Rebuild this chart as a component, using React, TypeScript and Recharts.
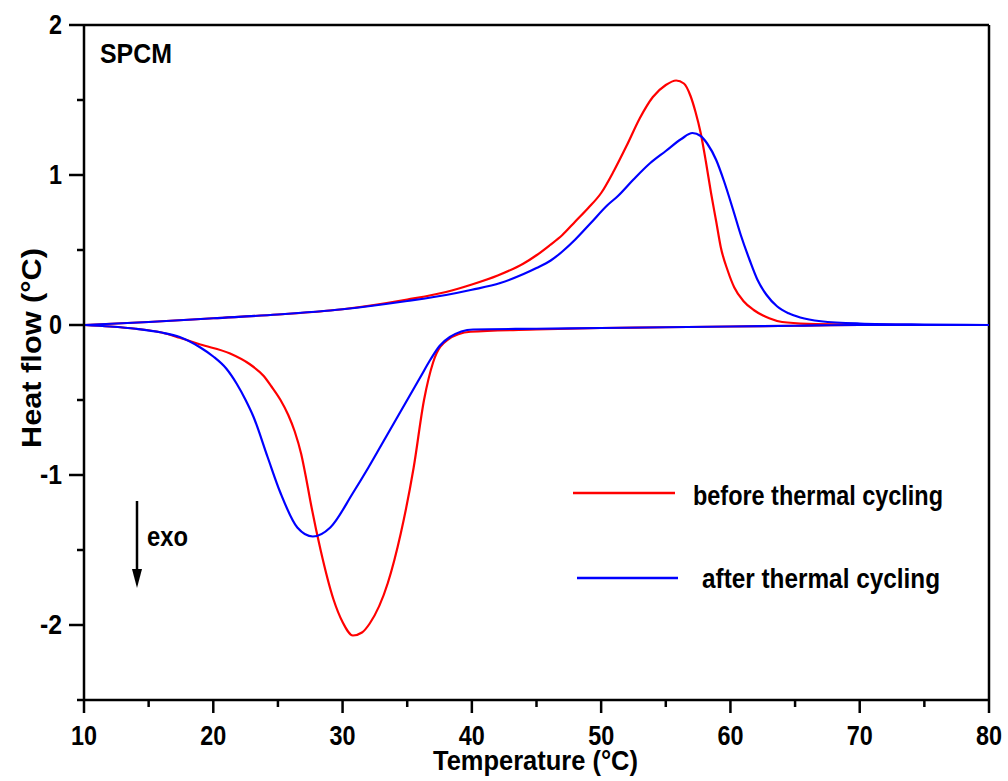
import React from "react";
import { LineChart, Line, XAxis, YAxis, ReferenceLine, Customized } from "recharts";

// heating branch (upper, endothermic) and cooling branch (lower, exothermic)
const redHeatT = [10, 15, 20, 25, 30, 35, 38, 40, 42, 44, 45, 46, 47, 48, 49, 50, 51, 52, 53, 54, 55, 55.8, 56.4, 56.9, 57.3, 57.7, 58.1, 58.5, 58.9, 59.25, 59.8, 60.3, 61, 61.8, 63, 64, 66, 70, 75, 80];
const redHeatV = [0, 0.02, 0.045, 0.07, 0.105, 0.17, 0.22, 0.27, 0.33, 0.41, 0.465, 0.53, 0.6, 0.69, 0.78, 0.88, 1.03, 1.2, 1.38, 1.52, 1.6, 1.63, 1.61, 1.53, 1.42, 1.28, 1.09, 0.88, 0.69, 0.52, 0.36, 0.25, 0.16, 0.1, 0.045, 0.02, 0.008, 0.003, 0, 0];

const blueHeatT = [10, 15, 20, 25, 30, 35, 38, 40, 42.2, 44, 45, 46.1, 47, 48, 49.2, 50.5, 51.3, 52.5, 53.8, 55, 56.2, 57.06, 57.7, 58.2, 58.9, 59.5, 60.2, 60.8, 61.5, 62.1, 62.8, 63.6, 64.5, 65.4, 67, 70, 75, 80];
const blueHeatV = [0, 0.02, 0.045, 0.07, 0.105, 0.16, 0.2, 0.235, 0.28, 0.34, 0.38, 0.43, 0.49, 0.57, 0.68, 0.8, 0.86, 0.97, 1.08, 1.16, 1.24, 1.28, 1.26, 1.21, 1.1, 0.96, 0.77, 0.6, 0.43, 0.3, 0.2, 0.125, 0.078, 0.05, 0.025, 0.01, 0.003, 0];

const redCoolT = [10, 12, 14, 16, 17.4, 19, 21.3, 22.8, 23.9, 24.5, 25.2, 25.8, 26.3, 26.8, 27.2, 27.5, 28.3, 29.3, 30, 30.8, 31.5, 32.1, 33.5, 34.5, 35.5, 36.3, 37, 38.1, 39.9, 45, 50, 55, 60, 65, 70, 80];
const redCoolV = [0, -0.01, -0.025, -0.05, -0.085, -0.13, -0.19, -0.26, -0.34, -0.41, -0.5, -0.6, -0.71, -0.86, -1.03, -1.17, -1.5, -1.83, -1.98, -2.07, -2.05, -1.99, -1.72, -1.39, -0.95, -0.5, -0.25, -0.1, -0.045, -0.03, -0.02, -0.015, -0.01, -0.005, 0, 0];

const blueCoolT = [10, 12, 14, 16, 17.4, 19, 20, 21, 21.8, 22.5, 23.1, 24.2, 25.2, 26.5, 27.7, 29.05, 30.8, 32, 33, 34, 35, 36, 36.8, 37.5, 38.3, 40.1, 45, 50, 55, 60, 65, 70, 80];
const blueCoolV = [0, -0.01, -0.025, -0.05, -0.08, -0.15, -0.21, -0.29, -0.39, -0.5, -0.61, -0.88, -1.12, -1.35, -1.41, -1.35, -1.12, -0.95, -0.8, -0.65, -0.5, -0.35, -0.23, -0.14, -0.08, -0.03, -0.025, -0.02, -0.015, -0.01, -0.005, 0, 0];

const xTicks = [10, 15, 20, 25, 30, 35, 40, 45, 50, 55, 60, 65, 70, 75, 80];
const yTicks = [-2.5, -2, -1.5, -1, -0.5, 0, 0.5, 1, 1.5, 2];

const toRows = (t: number[], v: number[]) => t.map((x, i) => ({ t: x, v: v[i] }));

const FONT = "'Liberation Sans Narrow', 'Arial Narrow', 'Liberation Sans', Arial, sans-serif";

const labelWidth = (s: string) => s.split("").reduce((w, c) => w + (c === "-" ? 9 : 13), 0);

const XTick = (props: any) => {
  const { x, y, payload } = props;
  const major = payload.value % 10 === 0;
  return (
    <g>
      <line x1={x} x2={x} y1={y} y2={y + (major ? 13 : 7)} stroke="#000" strokeWidth={2.5} />
      {major && (
        <text x={x} y={y + 45} textAnchor="middle" fontFamily={FONT} fontWeight="bold" fontSize={28}
          textLength={labelWidth(String(payload.value))} lengthAdjust="spacingAndGlyphs" fill="#000">
          {payload.value}
        </text>
      )}
    </g>
  );
};

const YTick = (props: any) => {
  const { x, y, payload } = props;
  const major = Number.isInteger(payload.value);
  const s = String(payload.value);
  return (
    <g>
      <line x1={x - (major ? 15 : 7)} x2={x} y1={y} y2={y} stroke="#000" strokeWidth={2.5} />
      {major && (
        <text x={x - 22} y={y + 9} textAnchor="end" fontFamily={FONT} fontWeight="bold" fontSize={28}
          textLength={labelWidth(s)} lengthAdjust="spacingAndGlyphs" fill="#000">
          {s}
        </text>
      )}
    </g>
  );
};

const Annotations = () => (
  <g fontFamily={FONT} fontWeight="bold" fill="#000">
    <text x={100} y={63} fontSize={28} textLength={72} lengthAdjust="spacingAndGlyphs">SPCM</text>
    <line x1={137} x2={137} y1={501} y2={574} stroke="#000" strokeWidth={2.5} />
    <polygon points="132,569 142,569 137,588" fill="#000" />
    <text x={147} y={546} fontSize={28} textLength={41} lengthAdjust="spacingAndGlyphs">exo</text>
    <line x1={573} x2={675} y1={493} y2={493} stroke="#ff0000" strokeWidth={2.5} />
    <text x={693} y={505} fontSize={27} textLength={250} lengthAdjust="spacingAndGlyphs">before thermal cycling</text>
    <line x1={577} x2={678} y1={578} y2={578} stroke="#0000ff" strokeWidth={2.5} />
    <text x={702} y={588} fontSize={27} textLength={238} lengthAdjust="spacingAndGlyphs">after thermal cycling</text>
    <text x={433} y={770} fontSize={28} textLength={205} lengthAdjust="spacingAndGlyphs">Temperature (°C)</text>
    <text x={0} y={0} fontSize={27} textLength={200} lengthAdjust="spacingAndGlyphs"
      transform="translate(41,448) rotate(-90)">Heat flow (°C)</text>
  </g>
);

export default function App() {
  return (
    <div style={{ position: "absolute", left: 0, top: 0, background: "#fff" }}>
      <LineChart width={1008} height={781} margin={{ top: 25, right: 19, bottom: 0, left: 0 }}>
        <XAxis type="number" dataKey="t" domain={[10, 80]} ticks={xTicks} interval={0}
          height={81} tickSize={0} tickMargin={0} tickLine={false}
          axisLine={{ stroke: "#000", strokeWidth: 2.5 }} tick={<XTick />} />
        <YAxis type="number" dataKey="v" domain={[-2.5, 2]} ticks={yTicks} interval={0}
          width={84} tickSize={0} tickMargin={0} tickLine={false}
          axisLine={{ stroke: "#000", strokeWidth: 2.5 }} tick={<YTick />} />
        <ReferenceLine y={2} stroke="#000" strokeWidth={2.5} />
        <ReferenceLine x={80} stroke="#000" strokeWidth={2.5} />
        <Line data={toRows(redCoolT, redCoolV)} dataKey="v" type="monotone" stroke="#ff0000" strokeWidth={2.2} dot={false} isAnimationActive={false} />
        <Line data={toRows(redHeatT, redHeatV)} dataKey="v" type="monotone" stroke="#ff0000" strokeWidth={2.2} dot={false} isAnimationActive={false} />
        <Line data={toRows(blueCoolT, blueCoolV)} dataKey="v" type="monotone" stroke="#0000ff" strokeWidth={2.2} dot={false} isAnimationActive={false} />
        <Line data={toRows(blueHeatT, blueHeatV)} dataKey="v" type="monotone" stroke="#0000ff" strokeWidth={2.2} dot={false} isAnimationActive={false} />
        <Customized component={Annotations} />
      </LineChart>
    </div>
  );
}
